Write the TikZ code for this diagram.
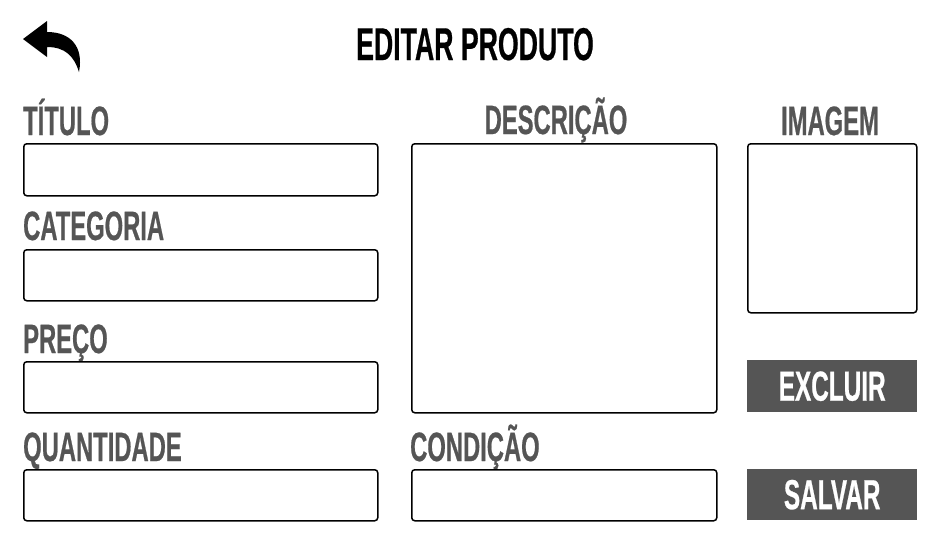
\documentclass[tikz,border=0pt]{standalone}
\usepackage{fontspec}
\usepackage{tikz}
\usepackage{xcolor}
\usetikzlibrary{positioning}
\newfontfamily\uifont{Liberation Sans}[FakeStretch=0.58,FakeBold=0.5]
\definecolor{cinza}{HTML}{555555}
\tikzstyle{campo} = [rectangle,
                     rounded corners=3pt,
                     draw=black,
                     line width=1.5pt,
                     inner sep=0pt,
                     anchor=north west]
\tikzstyle{rotulo} = [inner sep=0pt,
                      anchor=base west,
                      text=cinza,
                      font=\uifont\bfseries\fontsize{41}{41}\selectfont]
\tikzstyle{botao} = [rectangle,
                     fill=cinza,
                     text=white,
                     inner sep=0pt,
                     anchor=north west,
                     font=\uifont\bfseries\fontsize{42}{42}\selectfont]
\tikzstyle{titulo} = [inner sep=0pt,
                      anchor=base,
                      text=black,
                      font=\uifont\bfseries\fontsize{46}{46}\selectfont]

\begin{document}
\begin{tikzpicture}[x=1pt,y=-1pt]

    \useasboundingbox (0,0) rectangle (950,550);

    \node (tit)  [titulo] at (475,60) {EDITAR PRODUTO};
    \fill (23,39) -- (47,21) -- (47,32) .. controls (70,32) and (84,46) .. (79,72)
          .. controls (74,56) and (65,47) .. (47,47) -- (47,57) -- cycle;

    % coluna da esquerda
    \node (ltitulo) [rotulo] at (23,135) {TÍTULO};
    \node (ctitulo) [campo, minimum width=354pt, minimum height=52pt] at (23,143) {};
    \node (lcateg)  [rotulo] at (23,240) {CATEGORIA};
    \node (ccateg)  [campo, minimum width=354pt, minimum height=51pt] at (23,249) {};
    \node (lpreco)  [rotulo] at (23,353) {PREÇO};
    \node (cpreco)  [campo, minimum width=354pt, minimum height=51pt] at (23,361) {};
    \node (lquant)  [rotulo] at (23,461) {QUANTIDADE};
    \node (cquant)  [campo, minimum width=354pt, minimum height=51pt] at (23,469) {};

    % coluna do meio
    \node (ldesc)   [rotulo, anchor=base] at (556,134) {DESCRIÇÃO};
    \node (cdesc)   [campo, minimum width=305pt, minimum height=269pt] at (411,143) {};
    \node (lcond)   [rotulo] at (410,461) {CONDIÇÃO};
    \node (ccond)   [campo, minimum width=305pt, minimum height=51pt] at (411,469) {};

    % coluna da direita
    \node (limg)    [rotulo, anchor=base] at (830,135) {IMAGEM};
    \node (cimg)    [campo, minimum width=169pt, minimum height=169pt] at (747,143) {};
    \node (excluir) [botao, minimum width=170pt, minimum height=52pt] at (747,360) {EXCLUIR};
    \node (salvar)  [botao, minimum width=170pt, minimum height=51pt] at (747,469) {SALVAR};

\end{tikzpicture}
\end{document}
